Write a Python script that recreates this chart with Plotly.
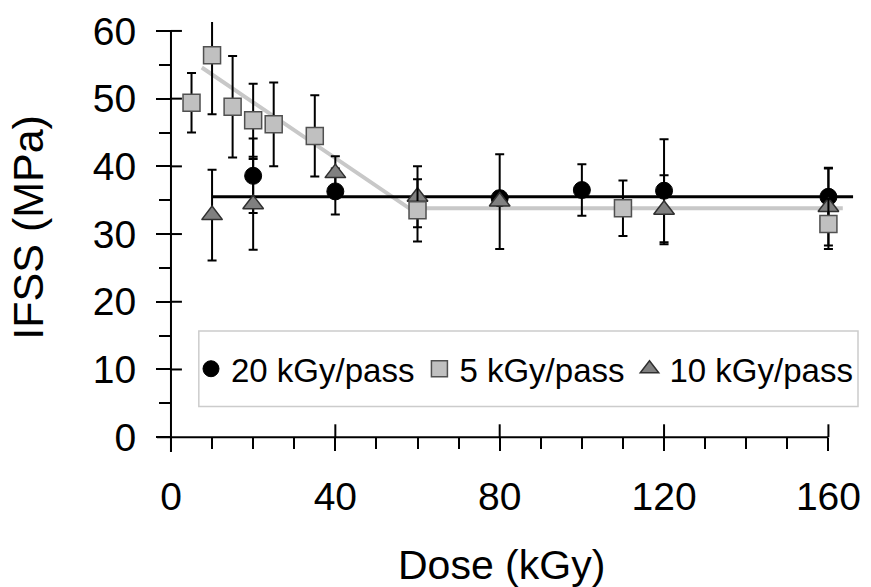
import plotly.graph_objects as go

# ---------------- data ----------------
circ_x = [20, 40, 80, 100, 120, 160]
circ_y = [38.6, 36.3, 35.3, 36.5, 36.4, 35.5]
circ_err = [5.5, 3.4, 1.0, 3.8, 7.6, 4.3]

sq_x = [5, 10, 15, 20, 25, 35, 60, 110, 160]
sq_y = [49.4, 56.4, 48.8, 46.8, 46.2, 44.5, 33.5, 33.8, 31.5]
sq_err = [4.4, 8.7, 7.5, 5.4, 6.2, 6.0, 4.6, 4.1, 3.7]

tri_x = [10, 20, 40, 60, 80, 120, 160]
tri_y = [32.8, 34.4, 39.0, 35.5, 34.8, 33.6, 34.0]
tri_err = [6.7, 6.7, 2.5, 4.5, 7.0, 5.1, 5.7]

gray_fit_x = [7.5, 58, 163.5]
gray_fit_y = [54.6, 33.8, 33.8]
black_fit_x = [10, 166]
black_fit_y = [35.5, 35.5]

x_ticks = [0, 40, 80, 120, 160]
y_ticks = [0, 10, 20, 30, 40, 50, 60]

series_names = ["20 kGy/pass", "5 kGy/pass", "10 kGy/pass"]

# ---------------- layout constants ----------------
X_RANGE = [-3.4, 167.2]
Y_RANGE = [-2.19, 61.32]
FONT = "Liberation Sans, Arial, sans-serif"
PLOT_L, PLOT_T, PLOT_W, PLOT_H = 157, 18, 704, 434


def px_x(p):
    return (p - PLOT_L) / PLOT_W


def px_y(p):
    return (PLOT_T + PLOT_H - p) / PLOT_H


def paper_x(v):
    return (v - X_RANGE[0]) / (X_RANGE[1] - X_RANGE[0])


def paper_y(v):
    return (v - Y_RANGE[0]) / (Y_RANGE[1] - Y_RANGE[0])


xpos = paper_y(0)
ypos = paper_x(0)

fig = go.Figure()

fig.add_trace(go.Scatter(x=gray_fit_x, y=gray_fit_y, mode="lines",
                         line=dict(color="#c8c8c8", width=4),
                         showlegend=False, hoverinfo="skip",
                         xaxis="x2", yaxis="y2"))
fig.add_trace(go.Scatter(x=black_fit_x, y=black_fit_y, mode="lines",
                         line=dict(color="black", width=3),
                         showlegend=False, hoverinfo="skip",
                         xaxis="x2", yaxis="y2"))

err_style = dict(type="data", visible=True, color="black", thickness=2, width=4.5)

fig.add_trace(go.Scatter(
    x=circ_x, y=circ_y, mode="markers", name=series_names[0], legendrank=1,
    error_y=dict(array=circ_err, **err_style),
    marker=dict(symbol="circle", size=17, color="black",
                line=dict(color="black", width=1)),
    xaxis="x2", yaxis="y2"))
fig.add_trace(go.Scatter(
    x=tri_x, y=tri_y, mode="markers", name=series_names[2], legendrank=3,
    error_y=dict(array=tri_err, **err_style),
    marker=dict(symbol="triangle-up", size=18, color="#808080",
                line=dict(color="#303030", width=1.5)),
    xaxis="x2", yaxis="y2"))
fig.add_trace(go.Scatter(
    x=sq_x, y=sq_y, mode="markers", name=series_names[1], legendrank=2,
    error_y=dict(array=sq_err, **err_style),
    marker=dict(symbol="square", size=17, color="#c0c0c0",
                line=dict(color="#505050", width=1.5)),
    xaxis="x2", yaxis="y2"))

tickfont = dict(family=FONT, size=39, color="black")
axis_line = dict(color="black", width=2)

# axis lines crossing at the origin and the inner half of the crossing major
# ticks, placed in paper coordinates derived from the axis ranges
shapes = [
    dict(type="line", xref="paper", yref="paper", x0=0, x1=paper_x(x_ticks[-1]),
         y0=xpos, y1=xpos, line=axis_line, layer="above"),
    dict(type="line", xref="paper", yref="paper", x0=ypos, x1=ypos,
         y0=0, y1=paper_y(y_ticks[-1]), line=axis_line, layer="above"),
]
for t in x_ticks[1:]:
    shapes.append(dict(type="line", xref="paper", yref="paper",
                       x0=paper_x(t), x1=paper_x(t),
                       y0=xpos, y1=xpos + 13 / PLOT_H, line=axis_line, layer="above"))
for t in y_ticks[1:]:
    shapes.append(dict(type="line", xref="paper", yref="paper",
                       x0=ypos, x1=ypos + 11 / PLOT_W,
                       y0=paper_y(t), y1=paper_y(t), line=axis_line, layer="above"))
shapes.append(dict(type="rect", xref="paper", yref="paper",
                   x0=px_x(199), x1=px_x(861), y0=px_y(406), y1=px_y(330),
                   line=dict(color="#cccccc", width=1.5), fillcolor="rgba(0,0,0,0)",
                   layer="above"))

fig.update_layout(
    width=871, height=587,
    margin=dict(l=PLOT_L, r=871 - PLOT_L - PLOT_W, t=PLOT_T, b=587 - PLOT_T - PLOT_H),
    paper_bgcolor="white", plot_bgcolor="white",
    font=dict(family=FONT, color="black"),
    showlegend=True,
    legend=dict(orientation="h", x=1.0, y=px_y(368),
                xanchor="right", yanchor="middle",
                borderwidth=0, bgcolor="rgba(0,0,0,0)",
                font=dict(family=FONT, size=33, color="black"),
                traceorder="normal"),
    xaxis=dict(range=X_RANGE, anchor="free", position=xpos,
               showgrid=False, zeroline=False, showline=False,
               showticklabels=False, ticks=""),
    yaxis=dict(range=Y_RANGE, anchor="free", position=ypos,
               showgrid=False, zeroline=False, showline=False,
               showticklabels=False, ticks=""),
    xaxis2=dict(range=X_RANGE, overlaying="x", anchor="free", position=xpos,
                showgrid=False, zeroline=False, showline=False,
                tickmode="array", tickvals=x_ticks,
                ticks="outside", ticklen=13, tickwidth=2, tickcolor="black",
                minor=dict(dtick=10, tick0=0, ticks="outside", ticklen=11,
                           tickwidth=2, tickcolor="black", showgrid=False),
                tickfont=tickfont, ticklabelstandoff=12),
    yaxis2=dict(range=Y_RANGE, overlaying="y", anchor="free", position=ypos,
                showgrid=False, zeroline=False, showline=False,
                tickmode="array", tickvals=y_ticks,
                ticks="outside", ticklen=15, tickwidth=2, tickcolor="black",
                minor=dict(dtick=5, tick0=0, ticks="outside", ticklen=12,
                           tickwidth=2, tickcolor="black", showgrid=False),
                tickfont=tickfont, ticklabelstandoff=12),
    shapes=shapes,
    annotations=[
        dict(text="Dose (kGy)", xref="paper", yref="paper",
             x=px_x(503), y=px_y(566),
             xanchor="center", yanchor="middle", showarrow=False,
             font=dict(family=FONT, size=41, color="black")),
        dict(text="IFSS (MPa)", xref="paper", yref="paper",
             x=px_x(28), y=px_y(225),
             xanchor="center", yanchor="middle", showarrow=False, textangle=-90,
             font=dict(family=FONT, size=43, color="black")),
    ],
)

fig.write_html("out.html")
